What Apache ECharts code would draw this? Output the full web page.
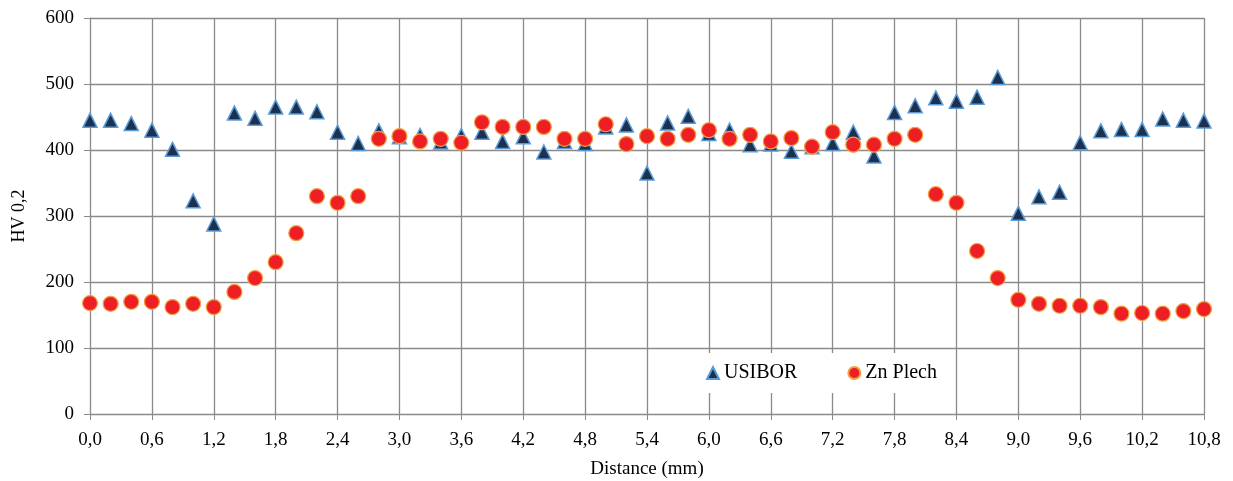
<!DOCTYPE html>
<html>
<head>
<meta charset="utf-8">
<script src="https://cdn.jsdelivr.net/npm/echarts@6/dist/echarts.min.js"></script>
<style>
  html, body { margin: 0; padding: 0; background: #fff; }
  #main { width: 1233px; height: 481px; }
</style>
</head>
<body>
<div id="main"></div>
<script>
// distance along the sample (mm)
var distance = [0.0, 0.2, 0.4, 0.6, 0.8, 1.0, 1.2, 1.4, 1.6, 1.8, 2.0, 2.2, 2.4, 2.6, 2.8,
  3.0, 3.2, 3.4, 3.6, 3.8, 4.0, 4.2, 4.4, 4.6, 4.8, 5.0, 5.2, 5.4, 5.6, 5.8,
  6.0, 6.2, 6.4, 6.6, 6.8, 7.0, 7.2, 7.4, 7.6, 7.8, 8.0, 8.2, 8.4, 8.6, 8.8,
  9.0, 9.2, 9.4, 9.6, 9.8, 10.0, 10.2, 10.4, 10.6, 10.8];

var usibor = [445, 445, 440, 430, 401, 323, 288, 456, 448, 465, 465, 458, 427, 410, 429,
  420, 422, 412, 422, 427, 413, 420, 397, 413, 410, 435, 438, 365, 441, 451,
  425, 430, 408, 409, 398, 405, 410, 427, 391, 457, 467, 479, 474, 480, 510,
  304, 329, 336, 411, 429, 431, 431, 447, 445, 444];

var znPlech = [168, 167, 170, 170, 162, 167, 162, 185, 206, 230, 274, 330, 320, 330, 417,
  421, 413, 417, 411, 442, 435, 435, 435, 417, 417, 439, 409, 421, 417, 423,
  430, 417, 423, 413, 418, 405, 427, 408, 408, 417, 423, 333, 320, 247, 206,
  173, 167, 164, 164, 162, 152, 153, 152, 156, 159];

var yTicks = [0, 100, 200, 300, 400, 500, 600];

function pairs(xs, ys) {
  return xs.map(function (x, i) { return [x, ys[i]]; });
}

var chart = echarts.init(document.getElementById('main'));
var serif = 'Liberation Serif';
var gridColor = '#8a8a8a';

var option = {
  animation: false,
  textStyle: { fontFamily: serif },
  grid: { left: 90, right: 29, top: 18, bottom: 67, containLabel: false, outerBoundsMode: 'none' },
  legend: {
    left: 692, top: 353,
    padding: [10, 16, 10, 14],
    backgroundColor: '#fff',
    itemGap: 50,
    itemWidth: 12, itemHeight: 12,
    textStyle: { fontFamily: serif, fontSize: 20, color: '#000' },
    data: [
      { name: 'USIBOR', icon: 'triangle' },
      { name: 'Zn Plech', icon: 'circle' }
    ]
  },
  xAxis: {
    type: 'value', min: 0, max: 10.8, interval: 0.6,
    name: 'Distance (mm)', nameLocation: 'middle', nameGap: 46,
    nameTextStyle: { fontFamily: serif, fontSize: 19, color: '#000' },
    axisLine: { show: true, lineStyle: { color: gridColor } },
    axisTick: { show: true, length: 6, lineStyle: { color: gridColor } },
    axisLabel: {
      fontFamily: serif, fontSize: 19, color: '#000', margin: 17,
      formatter: function (v) { return v.toFixed(1).replace('.', ','); }
    },
    splitLine: { show: true, lineStyle: { color: gridColor, width: 1.3 } }
  },
  yAxis: {
    type: 'value', min: yTicks[0], max: yTicks[yTicks.length - 1], interval: 100,
    name: 'HV 0,2', nameLocation: 'middle', nameGap: 62, nameRotate: 90,
    nameTextStyle: { fontFamily: serif, fontSize: 18, color: '#000' },
    axisLine: { show: true, lineStyle: { color: gridColor } },
    axisTick: { show: true, length: 6, lineStyle: { color: gridColor } },
    axisLabel: { fontFamily: serif, fontSize: 19, color: '#000', margin: 16 },
    splitLine: { show: true, lineStyle: { color: gridColor, width: 1.3 } }
  },
  series: [
    {
      name: 'USIBOR', type: 'scatter', symbol: 'triangle', symbolSize: 14,
      itemStyle: { color: '#1c3150', borderColor: '#5b9bd5', borderWidth: 1.5, opacity: 1 },
      data: pairs(distance, usibor)
    },
    {
      name: 'Zn Plech', type: 'scatter', symbol: 'circle', symbolSize: 15,
      itemStyle: { color: '#ee1f24', borderColor: '#f0a040', borderWidth: 1.2, opacity: 1 },
      data: pairs(distance, znPlech)
    }
  ]
};

chart.setOption(option);
</script>
</body>
</html>
